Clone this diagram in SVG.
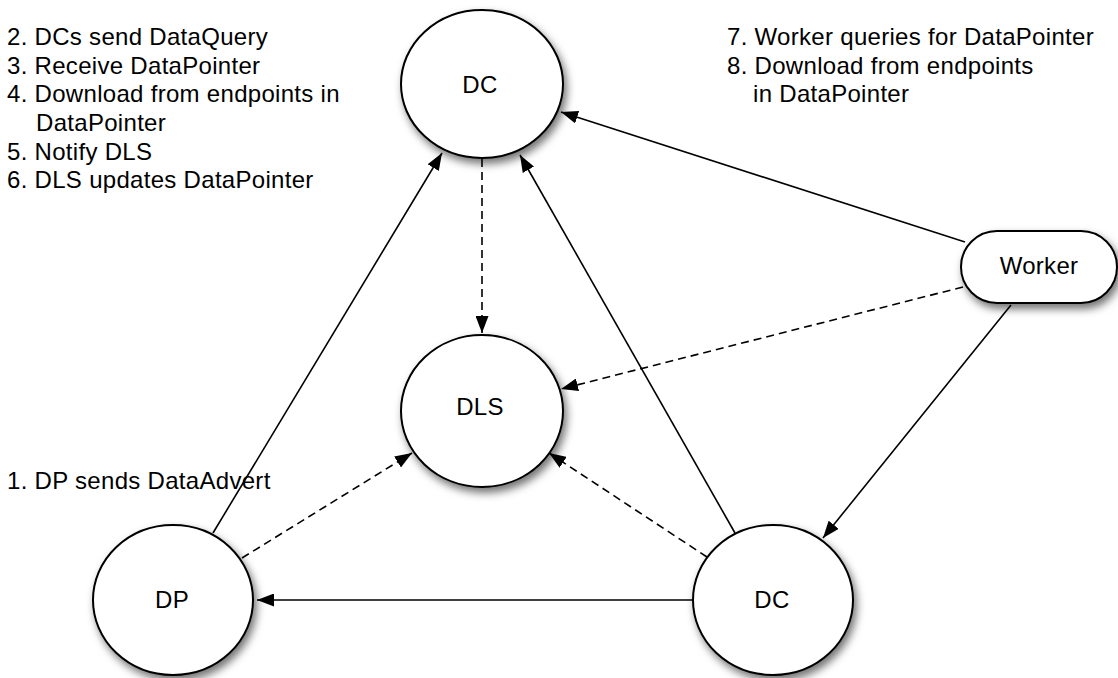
<svg xmlns="http://www.w3.org/2000/svg" width="1118" height="678" viewBox="0 0 1118 678">
<style>
text{font-family:"Liberation Sans",Arial,Helvetica,sans-serif;font-size:24px;fill:#000;letter-spacing:0.3px}
.lbl{text-anchor:middle}
.node{fill:#fff;stroke:#000;stroke-width:2;filter:url(#sh)}
.c{fill:none;stroke:#000;stroke-width:1.6;marker-end:url(#ah)}
.d{stroke-dasharray:8,5}
</style>
<defs>
<filter id="sh" x="-30%" y="-30%" width="160%" height="160%">
<feDropShadow dx="3" dy="5" stdDeviation="4" flood-color="#000" flood-opacity="0.55"/>
</filter>
<marker id="ah" markerUnits="userSpaceOnUse" markerWidth="18" markerHeight="13" refX="17" refY="6.5" orient="auto">
<path d="M0,0 L17,6.5 L0,13 z" fill="#000"/>
</marker>
</defs>
<g id="connectors">
<line class="c" x1="213" y1="533" x2="442" y2="153"/>
<line class="c d" x1="242" y1="558" x2="412" y2="453"/>
<line class="c" x1="693" y1="600" x2="257" y2="600"/>
<line class="c d" x1="707" y1="557" x2="549" y2="453"/>
<line class="c" x1="735" y1="533" x2="520" y2="155"/>
<line class="c d" x1="482" y1="159" x2="482" y2="333"/>
<line class="c" x1="965" y1="242" x2="561" y2="112"/>
<line class="c d" x1="963" y1="287" x2="561" y2="389"/>
<line class="c" x1="1011" y1="305" x2="823" y2="538"/>
</g>
<g id="node-dc-top"><ellipse class="node" cx="482" cy="84" rx="81" ry="74"/><text class="lbl" x="480" y="93">DC</text></g>
<g id="node-dls"><ellipse class="node" cx="482" cy="411" rx="81" ry="76"/><text class="lbl" x="480" y="415">DLS</text></g>
<g id="node-dp"><ellipse class="node" cx="173" cy="600" rx="80" ry="75"/><text class="lbl" x="172" y="608">DP</text></g>
<g id="node-dc-bottom"><ellipse class="node" cx="773" cy="600" rx="80" ry="75"/><text class="lbl" x="772" y="608">DC</text></g>
<g id="node-worker"><rect class="node" x="961" y="231" width="156" height="72" rx="36" ry="36"/><text class="lbl" x="1039" y="274">Worker</text></g>
<g id="notes">
<text x="7" y="45">2. DCs send DataQuery</text>
<text x="7" y="73.5">3. Receive DataPointer</text>
<text x="7" y="102">4. Download from endpoints in</text>
<text x="36" y="131">DataPointer</text>
<text x="7" y="159.5">5. Notify DLS</text>
<text x="7" y="188">6. DLS updates DataPointer</text>
<text x="727" y="45">7. Worker queries for DataPointer</text>
<text x="727" y="73.5">8. Download from endpoints</text>
<text x="753" y="102">in DataPointer</text>
<text x="7" y="489">1. DP sends DataAdvert</text>
</g>
</svg>
